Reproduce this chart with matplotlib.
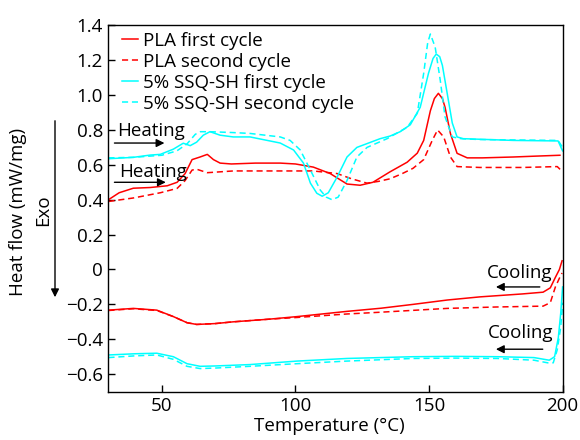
import matplotlib
matplotlib.use("Agg")
import matplotlib.pyplot as plt

plt.rcParams['font.family'] = ['Open Sans', 'DejaVu Sans']
plt.rcParams['axes.unicode_minus'] = True

# heating curves (temperature in C, heat flow in mW/mg)
pla1_heat_t = [30, 34, 39.3, 45.6, 52, 55.7, 58.7, 61.3, 64.3, 67, 69.3, 71.8, 76, 85, 94.3,
               100, 106.7, 113, 119.3, 124.2, 129, 135.4, 141.8, 145.6, 148, 150.5, 152,
               153.5, 155, 156, 158, 160.5, 164.3, 170, 181.6, 190, 199]
pla1_heat_v = [0.40, 0.44, 0.466, 0.47, 0.48, 0.50, 0.55, 0.63, 0.645, 0.66, 0.63, 0.61, 0.605,
               0.61, 0.61, 0.605, 0.587, 0.55, 0.49, 0.483, 0.50, 0.56, 0.615, 0.667, 0.74,
               0.91, 0.98, 1.01, 0.98, 0.93, 0.78, 0.666, 0.64, 0.64, 0.645, 0.65, 0.655]

pla2_heat_t = [30, 39.3, 49.4, 55.7, 58.7, 61.3, 63, 65, 67, 76.7, 94.3, 106.7, 115.6, 121,
               126.8, 131, 135.4, 140, 144, 148, 151.2, 153.2, 155.5, 158, 160.5, 169, 185,
               198, 200]
pla2_heat_v = [0.39, 0.41, 0.44, 0.465, 0.51, 0.57, 0.575, 0.565, 0.555, 0.565, 0.565, 0.565,
               0.55, 0.52, 0.495, 0.505, 0.52, 0.55, 0.58, 0.63, 0.74, 0.80, 0.76, 0.645,
               0.59, 0.585, 0.585, 0.59, 0.56]

ssq1_heat_t = [30, 39.3, 45.6, 49.4, 54.3, 58, 60.6, 63, 65.5, 68, 71.8, 76.7, 83, 94.3, 99.3,
               103, 105.6, 108, 110, 112.3, 115.6, 119.3, 123, 131.7, 135.4, 139.2, 143,
               146.7, 149.8, 151.5, 152.7, 154, 155, 156.8, 158.7, 160.5, 162.8, 181.6,
               198.3, 200]
ssq1_heat_v = [0.635, 0.643, 0.656, 0.66, 0.69, 0.724, 0.71, 0.73, 0.77, 0.79, 0.77, 0.76,
               0.76, 0.725, 0.685, 0.61, 0.495, 0.437, 0.42, 0.44, 0.53, 0.645, 0.70, 0.75,
               0.765, 0.79, 0.83, 0.93, 1.125, 1.21, 1.235, 1.22, 1.17, 1.01, 0.84, 0.76,
               0.75, 0.74, 0.737, 0.68]

ssq2_heat_t = [30, 39.3, 45.6, 50, 55.6, 59.4, 62.5, 64.4, 68, 76.7, 83, 94.3, 98, 101.8,
               105.6, 109.3, 111.5, 113.7, 116, 119.3, 123, 126.8, 134.3, 141.8, 145.6, 148,
               149.5, 150.5, 152.3, 154.2, 156, 158.7, 162, 169, 198.3, 200]
ssq2_heat_v = [0.64, 0.643, 0.65, 0.655, 0.68, 0.72, 0.775, 0.79, 0.79, 0.785, 0.78, 0.76,
               0.74, 0.685, 0.57, 0.455, 0.415, 0.40, 0.415, 0.51, 0.645, 0.70, 0.75, 0.815,
               0.895, 1.125, 1.30, 1.35, 1.275, 1.085, 0.875, 0.76, 0.75, 0.745, 0.74, 0.70]

# cooling curves
pla1_cool_t = [30, 39.3, 48.1, 54.3, 59.4, 63, 70, 76.7, 90, 100.6, 119.3, 132, 144, 156.8,
               169, 185, 192.7, 195.4, 197.3, 198.8, 199.8]
pla1_cool_v = [-0.233, -0.223, -0.233, -0.27, -0.305, -0.315, -0.31, -0.30, -0.285, -0.27,
               -0.24, -0.222, -0.20, -0.175, -0.157, -0.14, -0.13, -0.105, -0.045, 0.0, 0.05]

pla2_cool_t = [30, 39.3, 48.1, 54.3, 59.4, 63, 70, 76.7, 90, 100.6, 119.3, 131.7, 156.8, 175,
               192.7, 195.4, 197.3, 198.8, 199.8]
pla2_cool_v = [-0.235, -0.225, -0.235, -0.27, -0.305, -0.315, -0.31, -0.30, -0.285, -0.275,
               -0.255, -0.245, -0.223, -0.215, -0.21, -0.19, -0.10, -0.05, -0.02]

ssq1_cool_t = [30, 40, 48.1, 54.3, 59.4, 64.3, 70, 83, 100.6, 119.3, 144, 160, 175.7, 189.3,
               195, 197, 198.4, 199.3, 200]
ssq1_cool_v = [-0.49, -0.483, -0.48, -0.50, -0.54, -0.555, -0.553, -0.545, -0.525, -0.51,
               -0.50, -0.498, -0.50, -0.505, -0.52, -0.50, -0.39, -0.25, -0.10]

ssq2_cool_t = [30, 40, 48.1, 54.3, 59.4, 64.3, 70, 83, 100.6, 119.3, 144, 160, 175.7, 189.3,
               194.4, 196.5, 198, 199.3, 200]
ssq2_cool_v = [-0.505, -0.495, -0.49, -0.515, -0.555, -0.568, -0.565, -0.555, -0.54, -0.525,
               -0.51, -0.508, -0.51, -0.52, -0.535, -0.535, -0.46, -0.33, -0.19]

red = '#ff0000'
cyan = '#00ffff'
lw = 1.1
dash = (0, (4, 2.5))
fs = 13.5

fig = plt.figure(figsize=(5.8, 4.4), dpi=100)
ax = fig.add_axes([0.187, 0.11, 0.783, 0.8325])

ax.plot(pla1_heat_t, pla1_heat_v, color=red, lw=lw, label='PLA first cycle')
ax.plot(pla2_heat_t, pla2_heat_v, color=red, lw=lw, ls=dash, label='PLA second cycle')
ax.plot(ssq1_heat_t, ssq1_heat_v, color=cyan, lw=lw, label='5% SSQ-SH first cycle')
ax.plot(ssq2_heat_t, ssq2_heat_v, color=cyan, lw=lw, ls=dash, label='5% SSQ-SH second cycle')
ax.plot(pla1_cool_t, pla1_cool_v, color=red, lw=lw)
ax.plot(pla2_cool_t, pla2_cool_v, color=red, lw=lw, ls=dash)
ax.plot(ssq1_cool_t, ssq1_cool_v, color=cyan, lw=lw)
ax.plot(ssq2_cool_t, ssq2_cool_v, color=cyan, lw=lw, ls=dash)

ax.set_xlim(30, 200)
ax.set_ylim(-0.7, 1.4)
ax.set_xticks([50, 100, 150, 200])
yt = [-0.6, -0.4, -0.2, 0, 0.2, 0.4, 0.6, 0.8, 1.0, 1.2, 1.4]
ax.set_yticks(yt)
ax.set_yticklabels(['0' if v == 0 else f'{v:.1f}'.replace('-', '\u2212') for v in yt])
ax.tick_params(direction='in', labelsize=fs, length=5, width=1, pad=4)
for s in ax.spines.values():
    s.set_linewidth(1)
ax.set_xlabel('Temperature (\u00b0C)', fontsize=fs)
ax.xaxis.set_label_coords(0.486, -0.068)

leg = ax.legend(loc='upper left', fontsize=fs, frameon=False, handlelength=0.85,
                handletextpad=0.27, labelspacing=0.16, borderaxespad=0.0,
                borderpad=0.2, bbox_to_anchor=(0.022, 0.992))

# heating / cooling annotations
ax.text(33.3, 0.793, 'Heating', fontsize=fs, va='center', ha='left')
ax.annotate('', xy=(52, 0.725), xytext=(31.2, 0.725),
            arrowprops=dict(arrowstyle='-|>', color='black', lw=1, mutation_scale=12))
ax.text(34.0, 0.558, 'Heating', fontsize=fs, va='center', ha='left')
ax.annotate('', xy=(52.5, 0.50), xytext=(31.2, 0.50),
            arrowprops=dict(arrowstyle='-|>', color='black', lw=1, mutation_scale=12))
ax.text(196, -0.02, 'Cooling', fontsize=fs, va='center', ha='right')
ax.annotate('', xy=(174, -0.10), xytext=(192.5, -0.10),
            arrowprops=dict(arrowstyle='-|>', color='black', lw=1, mutation_scale=12))
ax.text(196.5, -0.365, 'Cooling', fontsize=fs, va='center', ha='right')
ax.annotate('', xy=(174, -0.457), xytext=(193.6, -0.457),
            arrowprops=dict(arrowstyle='-|>', color='black', lw=1, mutation_scale=12))

# y label with Exo arrow
fig.text(18 / 580, 1 - 212 / 440, 'Heat flow (mW/mg)', rotation=90, fontsize=fs,
         ha='center', va='center')
fig.text(43 / 580, 1 - 210 / 440, 'Exo', rotation=90, fontsize=fs, ha='center', va='center')
fig.add_artist(matplotlib.patches.FancyArrowPatch(
    (55 / 580, 1 - 118 / 440), (55 / 580, 1 - 300 / 440), transform=fig.transFigure,
    arrowstyle='-|>', color='black', lw=1, mutation_scale=12))

fig.savefig('out.png', dpi=100)
